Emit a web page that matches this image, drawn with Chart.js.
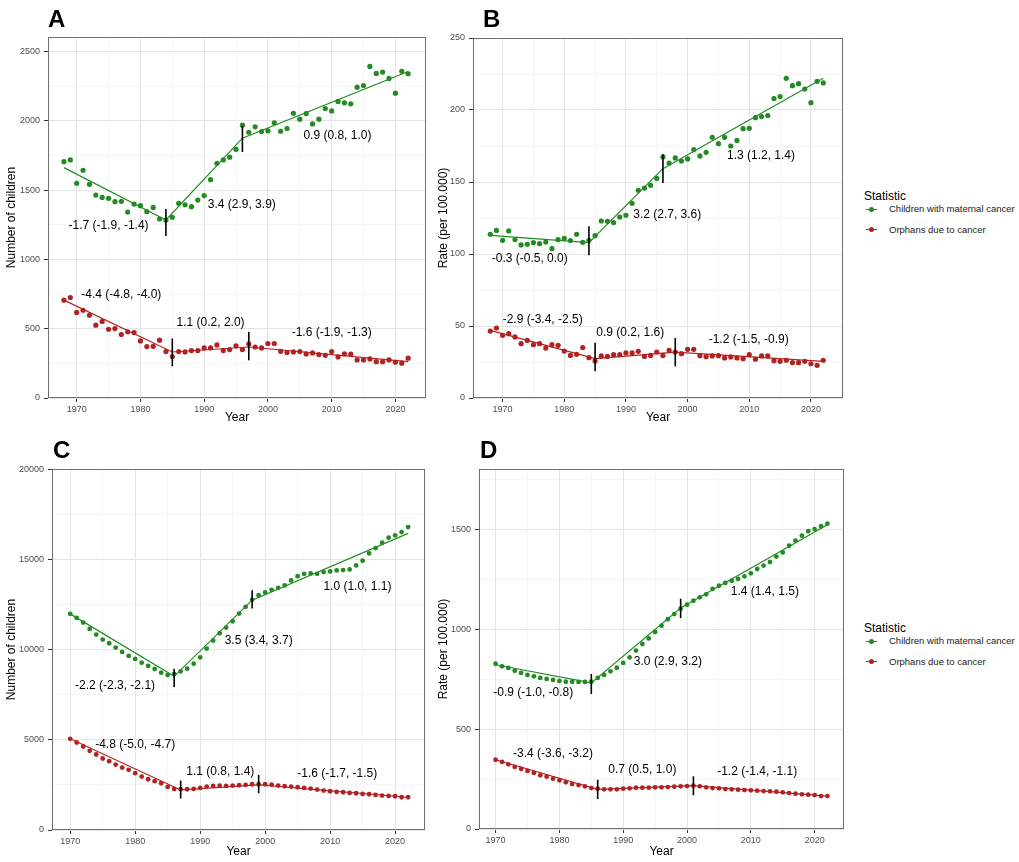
<!DOCTYPE html>
<html>
<head>
<meta charset="utf-8">
<script src="https://cdn.jsdelivr.net/npm/chart.js@4.4.0/dist/chart.umd.min.js"></script>
<style>
  body { margin: 0; background: #fff; width: 1019px; height: 862px; position: relative; overflow: hidden;
         font-family: "Liberation Sans", Arial, sans-serif; }
  canvas { position: absolute; }
  .lg { position: absolute; white-space: nowrap; color: #1a1a1a; }
  .lg-title { font-size: 12px; line-height: 14px; color: #000; }
  .lg-item { font-size: 9.5px; line-height: 12px; padding-left: 25px; }
  .key { position: absolute; left: 2px; top: 5.5px; width: 11px; height: 1px; }
  .key i { position: absolute; left: 3px; top: -2px; width: 5px; height: 5px; border-radius: 50%; }
</style>
</head>
<body>
<script>
// years
const yearsAB = [1968, 1969, 1970, 1971, 1972, 1973, 1974, 1975, 1976, 1977,
  1978, 1979, 1980, 1981, 1982, 1983, 1984, 1985, 1986, 1987,
  1988, 1989, 1990, 1991, 1992, 1993, 1994, 1995, 1996, 1997,
  1998, 1999, 2000, 2001, 2002, 2003, 2004, 2005, 2006, 2007,
  2008, 2009, 2010, 2011, 2012, 2013, 2014, 2015, 2016, 2017,
  2018, 2019, 2020, 2021, 2022];
const yearsCD = [1970, 1971, 1972, 1973, 1974, 1975, 1976, 1977, 1978, 1979,
  1980, 1981, 1982, 1983, 1984, 1985, 1986, 1987, 1988, 1989,
  1990, 1991, 1992, 1993, 1994, 1995, 1996, 1997, 1998, 1999,
  2000, 2001, 2002, 2003, 2004, 2005, 2006, 2007, 2008, 2009,
  2010, 2011, 2012, 2013, 2014, 2015, 2016, 2017, 2018, 2019,
  2020, 2021, 2022];

// A: number of children
const greenA = [1705, 1717, 1549, 1643, 1541, 1464, 1447, 1440, 1416, 1419,
  1341, 1399, 1387, 1344, 1375, 1291, 1284, 1303, 1404, 1394,
  1380, 1428, 1460, 1575, 1693, 1717, 1737, 1794, 1968, 1917,
  1956, 1922, 1927, 1985, 1924, 1944, 2054, 2011, 2052, 1977,
  2011, 2088, 2071, 2139, 2129, 2122, 2242, 2254, 2392, 2341,
  2351, 2305, 2199, 2357, 2339];
const redA = [706, 725, 617, 633, 597, 525, 552, 496, 501, 458,
  477, 472, 412, 371, 373, 417, 335, 299, 335, 332,
  342, 342, 361, 361, 383, 342, 349, 376, 349, 390,
  368, 361, 393, 393, 337, 328, 332, 335, 318, 325,
  313, 308, 335, 296, 318, 316, 275, 275, 282, 262,
  262, 275, 258, 251, 287];
const greenFitA = [[1968, 1662], [1984, 1284], [1996, 1874], [2022, 2355]];
const redFitA = [[1968, 706], [1985, 332], [1997, 368], [2022, 262]];
const greenBarsA = [[1984, 1168, 1363], [1996, 1775, 1963]];
const redBarsA = [[1985, 229, 429], [1997, 272, 477]];
const labelsA = [["-1.7 (-1.9, -1.4)", 1975.0, 1240], ["3.4 (2.9, 3.9)", 1995.9, 1397],
  ["0.9 (0.8, 1.0)", 2010.9, 1893], ["-4.4 (-4.8, -4.0)", 1977.0, 742],
  ["1.1 (0.2, 2.0)", 1991.0, 544], ["-1.6 (-1.9, -1.3)", 2010.0, 470]];

// B: rate per 100.000
const greenB = [113.7, 116.4, 109.5, 116.0, 110.0, 106.3, 106.7, 107.9, 107.2, 108.3,
  103.7, 110.0, 110.9, 109.3, 113.7, 108.1, 109.5, 112.7, 122.9, 122.7,
  121.8, 125.7, 126.9, 135.2, 144.2, 145.8, 147.7, 152.5, 167.4, 163.2,
  166.7, 164.6, 166.0, 172.5, 168.1, 170.6, 181.0, 176.6, 181.0, 175.0,
  178.9, 187.0, 187.3, 194.7, 195.4, 196.1, 207.9, 209.3, 222.0, 216.9,
  218.3, 214.6, 205.1, 219.9, 218.8];
const redB = [46.5, 48.6, 43.5, 44.7, 42.4, 37.7, 40.0, 37.0, 37.7, 34.7,
  37.0, 36.6, 32.6, 29.6, 30.3, 35.0, 28.0, 25.7, 29.2, 28.9,
  30.1, 30.1, 31.3, 31.3, 32.4, 28.9, 29.6, 31.9, 29.6, 33.1,
  31.9, 30.8, 33.8, 33.8, 29.4, 28.7, 29.2, 29.4, 27.8, 28.5,
  27.8, 27.3, 30.1, 26.9, 29.2, 29.2, 25.9, 25.5, 26.2, 24.5,
  24.5, 25.5, 23.8, 22.7, 26.2];
const greenFitB = [[1968, 113], [1984, 107.9], [1996, 159.3], [2022, 222]];
const redFitB = [[1968, 47], [1985, 27.3], [1998, 31.9], [2022, 25.5]];
const greenBarsB = [[1984, 99.1, 119.2], [1996, 149.3, 169.2]];
const redBarsB = [[1985, 18.5, 38.4], [1998, 22, 41.7]];
const labelsB = [["-0.3 (-0.5, 0.0)", 1974.4, 96.8], ["3.2 (2.7, 3.6)", 1996.7, 127.5],
  ["1.3 (1.2, 1.4)", 2011.9, 168.1], ["-2.9 (-3.4, -2.5)", 1976.5, 54.4],
  ["0.9 (0.2, 1.6)", 1990.7, 45.4], ["-1.2 (-1.5, -0.9)", 2009.9, 40.5]];

// C: number of children
const greenC = [12004, 11781, 11521, 11169, 10853, 10575, 10371, 10130, 9889, 9666,
  9499, 9295, 9110, 8942, 8738, 8609, 8664, 8813, 8961, 9239,
  9592, 10074, 10519, 10928, 11243, 11595, 12022, 12393, 12783, 13043,
  13191, 13340, 13451, 13581, 13859, 14100, 14230, 14249, 14230, 14323,
  14360, 14416, 14434, 14471, 14694, 14954, 15362, 15659, 15955, 16234,
  16364, 16549, 16827];
const redC = [5065, 4861, 4638, 4397, 4193, 3970, 3822, 3636, 3469, 3340,
  3154, 2968, 2820, 2709, 2597, 2393, 2282, 2263, 2263, 2282,
  2338, 2412, 2449, 2468, 2449, 2468, 2486, 2505, 2542, 2542,
  2542, 2523, 2468, 2430, 2412, 2375, 2338, 2301, 2245, 2189,
  2152, 2115, 2096, 2059, 2041, 2004, 1985, 1948, 1911, 1892,
  1874, 1818, 1818];
const greenFitC = [[1970, 12004], [1986, 8534], [1998, 12764], [2022, 16475]];
const redFitC = [[1970, 5065], [1987, 2226], [1999, 2505], [2022, 1818]];
const greenBarsC = [[1986, 7941, 8961], [1998, 12301, 13321]];
const redBarsC = [[1987, 1744, 2746], [1999, 2041, 3061]];
const labelsC = [["-2.2 (-2.3, -2.1)", 1976.9, 8033], ["3.5 (3.4, 3.7)", 1999.0, 10538],
  ["1.0 (1.0, 1.1)", 2014.2, 13506], ["-4.8 (-5.0, -4.7)", 1980.0, 4750],
  ["1.1 (0.8, 1.4)", 1993.1, 3247], ["-1.6 (-1.7, -1.5)", 2011.1, 3154]];

// D: rate per 100.000
const greenD = [828, 815, 807, 793, 782, 772, 765, 757, 752, 747,
  742, 738, 738, 737, 737, 738, 757, 772, 790, 808,
  832, 860, 894, 927, 955, 987, 1019, 1051, 1077, 1104,
  1124, 1144, 1161, 1176, 1203, 1219, 1233, 1244, 1253, 1266,
  1281, 1303, 1320, 1338, 1365, 1386, 1420, 1445, 1470, 1492,
  1503, 1517, 1530];
const redD = [347, 336, 324, 311, 301, 291, 281, 269, 262, 252,
  244, 234, 225, 220, 214, 205, 202, 199, 199, 199,
  202, 204, 207, 207, 207, 209, 209, 210, 212, 214,
  215, 217, 214, 209, 205, 204, 200, 199, 197, 195,
  194, 192, 190, 189, 187, 184, 180, 177, 174, 172,
  170, 165, 165];
const greenFitD = [[1970, 823], [1985, 732], [1999, 1107], [2022, 1525]];
const redFitD = [[1970, 347], [1986, 199], [2001, 217], [2022, 165]];
const greenBarsD = [[1985, 676, 777], [1999, 1057, 1154]];
const redBarsD = [[1986, 150, 247], [2001, 169, 264]];
const labelsD = [["-0.9 (-1.0, -0.8)", 1975.9, 685], ["3.0 (2.9, 3.2)", 1997.0, 837],
  ["1.4 (1.4, 1.5)", 2012.2, 1188], ["-3.4 (-3.6, -3.2)", 1979.0, 377],
  ["0.7 (0.5, 1.0)", 1993.0, 297], ["-1.2 (-1.4, -1.1)", 2011.0, 286]];

// axis ticks (major + minor grid)
const xTickVals = [1970, 1975, 1980, 1985, 1990, 1995, 2000, 2005, 2010, 2015, 2020];
const yTicksA = [0, 250, 500, 750, 1000, 1250, 1500, 1750, 2000, 2250, 2500];
const yTicksB = [0, 25, 50, 75, 100, 125, 150, 175, 200, 225, 250];
const yTicksC = [0, 2500, 5000, 7500, 10000, 12500, 15000, 17500, 20000];
const yTicksD = [0, 250, 500, 750, 1000, 1250, 1500, 1750];

const seriesNames = ["Children with maternal cancer", "Orphans due to cancer"];

const GREEN = "#228B22";
const RED = "#B22222";
const FONT = '"Liberation Sans", Arial, sans-serif';
Chart.defaults.font.family = FONT;
Chart.defaults.animation = false;

// frame, panel letter and slope labels
const panelPlugin = {
  id: "panel",
  afterDatasetsDraw(chart, args, opts) {
    const ctx = chart.ctx;
    const a = chart.chartArea;
    const x = chart.scales.x, y = chart.scales.y;
    ctx.save();
    ctx.font = "12px " + FONT;
    ctx.fillStyle = "#000";
    ctx.textAlign = "center";
    ctx.textBaseline = "middle";
    opts.labels.forEach(function (l) {
      ctx.fillText(l[0], x.getPixelForValue(l[1]), y.getPixelForValue(l[2]));
    });
    ctx.strokeStyle = "#6e6e6e";
    ctx.lineWidth = 1;
    ctx.strokeRect(a.left + 0.5, a.top + 0.5, a.right - a.left - 1, a.bottom - a.top - 1);
    ctx.font = "bold 24px " + FONT;
    ctx.textAlign = "left";
    ctx.textBaseline = "alphabetic";
    ctx.fillText(opts.letter, opts.letterX, opts.letterY);
    ctx.restore();
  }
};

function pts(years, vals) {
  return years.map((t, i) => ({ x: t, y: vals[i] }));
}

function makePanel(p) {
  const cv = document.createElement("canvas");
  cv.width = p.w;
  cv.height = p.h;
  cv.style.left = p.left + "px";
  cv.style.top = p.top + "px";
  document.body.appendChild(cv);

  const datasets = [
    { data: pts(p.years, p.green), backgroundColor: GREEN, borderWidth: 0, pointRadius: p.r, order: 3 },
    { data: pts(p.years, p.red), backgroundColor: RED, borderWidth: 0, pointRadius: p.r, order: 3 },
    { data: p.greenFit.map(f => ({ x: f[0], y: f[1] })), showLine: true, borderColor: GREEN, borderWidth: 1.2, pointRadius: 0, order: 2 },
    { data: p.redFit.map(f => ({ x: f[0], y: f[1] })), showLine: true, borderColor: RED, borderWidth: 1.2, pointRadius: 0, order: 2 }
  ];
  // joinpoint bars
  p.bars.forEach(function (b) {
    datasets.push({ data: [{ x: b[0], y: b[1] }, { x: b[0], y: b[2] }], showLine: true,
      borderColor: "#000", borderWidth: 1.6, pointRadius: 0, order: 1 });
  });

  const isMajX = v => v % 10 === 0;
  const isMajY = v => v % p.yStep === 0;

  return new Chart(cv, {
    type: "scatter",
    data: { datasets: datasets },
    plugins: [panelPlugin],
    options: {
      responsive: false,
      events: [],
      layout: { autoPadding: false, padding: { top: p.padTop, right: p.padRight, left: 0, bottom: 0 } },
      plugins: {
        legend: { display: false },
        tooltip: { enabled: false },
        panel: { labels: p.labels, letter: p.letter, letterX: p.letterX, letterY: p.letterY }
      },
      scales: {
        x: {
          type: "linear", min: p.xMin, max: p.xMax,
          afterBuildTicks: s => { s.ticks = xTickVals.map(v => ({ value: v })); },
          afterFit: s => { s.height = p.xH; },
          ticks: { autoSkip: false, maxRotation: 0, padding: 2, color: "#4d4d4d", font: { size: 9 },
                   callback: v => isMajX(v) ? String(v) : "" },
          grid: { color: c => isMajX(c.tick.value) ? "#e5e5e5" : "#f2f2f2",
                  lineWidth: c => isMajX(c.tick.value) ? 1 : 0.7,
                  tickLength: 4, tickColor: c => isMajX(c.tick.value) ? "#333" : "rgba(0,0,0,0)" },
          border: { display: false },
          title: { display: true, text: "Year", color: "#000", font: { size: 12 }, padding: { top: 0, bottom: p.xTitlePad } }
        },
        y: {
          type: "linear", min: 0, max: p.yMax,
          afterBuildTicks: s => { s.ticks = p.yTicks.map(v => ({ value: v })); },
          afterFit: s => { s.width = p.yW; },
          ticks: { autoSkip: false, padding: 4, color: "#4d4d4d", font: { size: 9 },
                   callback: v => isMajY(v) ? String(v) : "" },
          grid: { color: c => isMajY(c.tick.value) ? "#e5e5e5" : "#f2f2f2",
                  lineWidth: c => isMajY(c.tick.value) ? 1 : 0.7,
                  tickLength: 4, tickColor: c => isMajY(c.tick.value) ? "#333" : "rgba(0,0,0,0)" },
          border: { display: false },
          title: { display: true, text: p.yTitle, color: "#000", font: { size: 12 }, padding: { top: p.yTitlePad, bottom: 0 } }
        }
      }
    }
  });
}

function makeLegend(top) {
  const box = document.createElement("div");
  box.className = "lg";
  box.style.left = "864px";
  box.style.top = top + "px";
  let html = '<div class="lg-title">Statistic</div>';
  [GREEN, RED].forEach(function (c, i) {
    html += '<div class="lg-item" style="position:absolute;left:0;top:' + (14 + i * 20.5) + 'px">' +
      '<span class="key" style="background:' + c + '"><i style="background:' + c + '"></i></span>' +
      seriesNames[i] + "</div>";
  });
  box.innerHTML = html;
  document.body.appendChild(box);
}

makePanel({ left: 0, top: 0, w: 430, h: 430, padTop: 37, padRight: 4, yW: 48, xH: 32,
  years: yearsAB, green: greenA, red: redA, greenFit: greenFitA, redFit: redFitA,
  bars: greenBarsA.concat(redBarsA), labels: labelsA, r: 2.6,
  xMin: 1965.5, xMax: 2024.8, yMax: 2604, yTicks: yTicksA, yStep: 500,
  yTitle: "Number of children", yTitlePad: 4, xTitlePad: 5,
  letter: "A", letterX: 48, letterY: 27 });

makePanel({ left: 430, top: 0, w: 420, h: 430, padTop: 38, padRight: 7, yW: 43, xH: 32,
  years: yearsAB, green: greenB, red: redB, greenFit: greenFitB, redFit: redFitB,
  bars: greenBarsB.concat(redBarsB), labels: labelsB, r: 2.6,
  xMin: 1965.2, xMax: 2025.2, yMax: 250, yTicks: yTicksB, yStep: 50,
  yTitle: "Rate (per 100.000)", yTitlePad: 6, xTitlePad: 5,
  letter: "B", letterX: 53, letterY: 27 });

makePanel({ left: 0, top: 430, w: 430, h: 432, padTop: 39, padRight: 5, yW: 52, xH: 32,
  years: yearsCD, green: greenC, red: redC, greenFit: greenFitC, redFit: redFitC,
  bars: greenBarsC.concat(redBarsC), labels: labelsC, r: 2.4,
  xMin: 1967.2, xMax: 2024.6, yMax: 20050, yTicks: yTicksC, yStep: 5000,
  yTitle: "Number of children", yTitlePad: 4, xTitlePad: 3,
  letter: "C", letterX: 53, letterY: 28 });

makePanel({ left: 430, top: 430, w: 420, h: 432, padTop: 39, padRight: 6, yW: 49, xH: 33,
  years: yearsCD, green: greenD, red: redD, greenFit: greenFitD, redFit: redFitD,
  bars: greenBarsD.concat(redBarsD), labels: labelsD, r: 2.4,
  xMin: 1967.4, xMax: 2024.6, yMax: 1804, yTicks: yTicksD, yStep: 500,
  yTitle: "Rate (per 100.000)", yTitlePad: 6, xTitlePad: 3,
  letter: "D", letterX: 50, letterY: 28 });

makeLegend(189);
makeLegend(621);
</script>
</body>
</html>
